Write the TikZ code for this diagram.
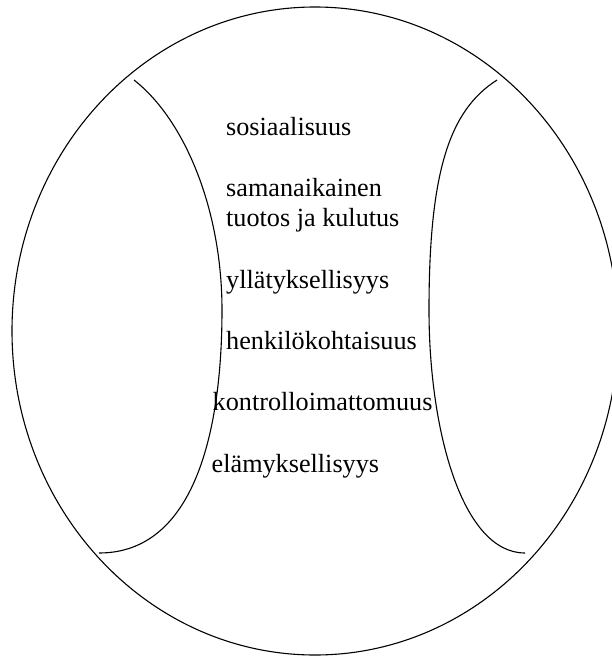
\documentclass[tikz,border=0pt]{standalone}
\usepackage{fontspec}
\setmainfont{Liberation Serif}
\begin{document}
\begin{tikzpicture}[x=1pt,y=-1pt,
  curve/.style={line width=1.1pt, black},
  lbl/.style={anchor=base west, inner sep=0pt,
    font=\fontsize{26.2}{30.5}\selectfont}]
\useasboundingbox (0,0) rectangle (611,656);
\fill[white] (0,0) rectangle (611,656);
% outer ellipse
\draw[curve] (315,331) ellipse [x radius=303, y radius=324];
% left inner arc
\coordinate (la) at (134,80);
\coordinate (lm) at (222,310);
\coordinate (lb) at (99,553);
\draw[curve] (la) .. controls (185,120) and (222,210) .. (lm)
  .. controls (222,430) and (195,553) .. (lb);
% right inner arc
\coordinate (ra) at (497,80);
\coordinate (rm) at (429,310);
\coordinate (rb) at (525,553);
\draw[curve] (ra) .. controls (450,110) and (429,170) .. (rm)
  .. controls (429,430) and (462,553) .. (rb);
% labels
\node[lbl] (t1) at (226,135) {sosiaalisuus};
\node[lbl] (t2) at (226,196) {samanaikainen};
\node[lbl] (t2b) at (226,226.5) {tuotos ja kulutus};
\node[lbl] (t3) at (226,288) {yllätyksellisyys};
\node[lbl] (t4) at (226,349.5) {henkilökohtaisuus};
\node[lbl] (t5) at (212.5,410) {kontrolloimattomuus};
\node[lbl] (t6) at (211.5,472) {elämyksellisyys};
\end{tikzpicture}
\end{document}
